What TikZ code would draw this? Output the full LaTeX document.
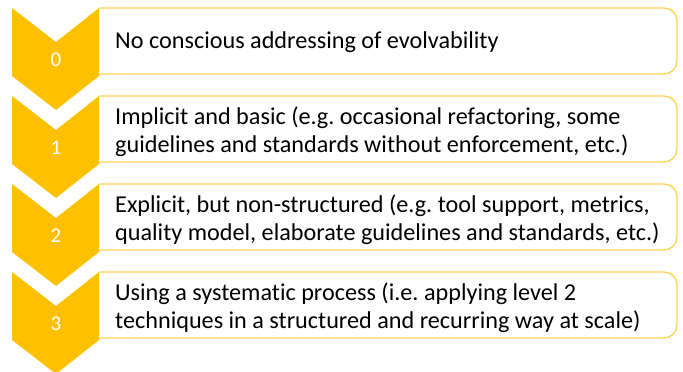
\documentclass[tikz,border=0pt]{standalone}
\usepackage{fontspec}
\setmainfont{Carlito}[Ligatures={NoCommon,NoRare,NoDiscretionary}]
\definecolor{gold}{HTML}{FFC000}
\definecolor{goldline}{HTML}{FFD34F}
\begin{document}
\frenchspacing
\begin{tikzpicture}[x=1pt,y=-1pt,
  chev/.style={fill=gold,draw=none},
  lvlbox/.style={draw=goldline,line width=1.3pt,fill=white,rounded corners=13pt},
  lvltxt/.style={anchor=base west,align=left,font=\fontsize{24.2}{27.5}\selectfont\frenchspacing,inner sep=0pt},
  num/.style={text=white,font=\fontsize{21}{24}\selectfont}]
\useasboundingbox (0,0) rectangle (683,372);
\foreach \i/\t/\dy in {0/{No conscious addressing of evolvability}/40,
  1/{Implicit and basic (e.g. occasional refactoring, some\\guidelines and standards without enforcement, etc.)}/56,
  2/{Explicit, but non-structured (e.g. tool support, metrics,\\quality model, elaborate guidelines and standards, etc.)}/56,
  3/{Using a systematic process (i.e. applying level 2\\techniques in a structured and recurring way at scale)}/56}{
  \pgfmathsetmacro{\yt}{8+88*\i}
  \draw[lvlbox] (99,\yt) -- (677,\yt) -- (677,\yt+66) -- (99,\yt+66);
  \fill[chev] (12,\yt) -- (56,\yt+34) -- (99,\yt) -- (99,\yt+68) -- (56,\yt+102) -- (12,\yt+68) -- cycle;
  \node[num] (n\i) at (56,\yt+52) {\i};
  \node[lvltxt] (t\i) at (115,\yt+\dy) {\t};
}
\end{tikzpicture}
\end{document}
